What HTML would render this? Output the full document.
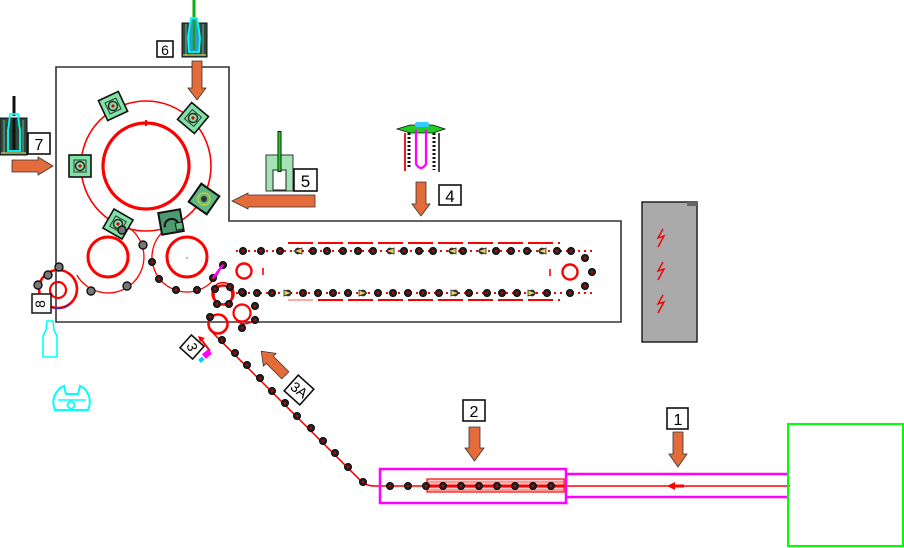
<!DOCTYPE html>
<html><head><meta charset="utf-8"><style>
html,body{margin:0;padding:0;background:#fff;}
svg{display:block;}
text{font-family:"Liberation Sans",sans-serif;}
</style></head><body>
<svg width="904" height="548" viewBox="0 0 904 548" xmlns="http://www.w3.org/2000/svg">
<defs>
<g id="cup">
<rect x="-11" y="-11" width="22" height="22" fill="#7fe3a6" stroke="#111" stroke-width="1.6"/>
<rect x="-6" y="-6" width="12" height="12" fill="none" stroke="#333" stroke-width="1"/>
<circle r="4.5" fill="none" stroke="#222" stroke-width="1.4"/>
<circle r="1.6" fill="#d00"/>
</g>
<g id="dot"><circle r="3.6" fill="#222" stroke="#000" stroke-width="0.8"/><circle r="1.2" fill="#c00"/></g>
<g id="ring"><circle r="4" fill="#777" stroke="#111" stroke-width="1.4"/></g>
<g id="tri"><circle r="3.4" fill="#333"/><polygon points="-4,-3 4,0 -4,3" fill="#e8d060" stroke="#222" stroke-width="0.8"/></g>
</defs>

<!-- machine outline -->
<polygon points="56,67 229,67 229,221 621,221 621,322 56,322" fill="none" stroke="#333" stroke-width="1.6"/>

<!-- big carousel -->
<circle cx="146" cy="166" r="65" fill="none" stroke="#f00" stroke-width="1.6"/>
<circle cx="146" cy="166" r="43" fill="none" stroke="#f00" stroke-width="3.2"/>
<line x1="146" y1="120" x2="146" y2="126" stroke="#f00" stroke-width="2"/>

<!-- lower circles -->
<circle cx="108" cy="257" r="20" fill="none" stroke="#f00" stroke-width="3"/>
<circle cx="187" cy="257" r="20" fill="none" stroke="#f00" stroke-width="3"/>
<circle cx="187" cy="258" r="1.2" fill="#bbb"/>
<path d="M76.8,275 A36 36 0 1 0 126,225.8" fill="none" stroke="#f00" stroke-width="1.3"/>
<path d="M162.2,232.3 A35 35 0 1 0 220.8,266" fill="none" stroke="#f00" stroke-width="1.3"/>

<!-- cups -->
<use href="#cup" transform="translate(113,106) rotate(-25)"/>
<use href="#cup" transform="translate(193,118) rotate(40)"/>
<use href="#cup" transform="translate(80,166)"/>
<g transform="translate(204,199) rotate(35)"><rect x="-11" y="-11" width="22" height="22" fill="#5db883" stroke="#111" stroke-width="2"/><circle r="6" fill="none" stroke="#cc3" stroke-width="1.4"/><circle r="3" fill="#333"/></g>
<use href="#cup" transform="translate(118,224) rotate(30)"/>
<g transform="translate(171,222) rotate(-10)"><rect x="-11" y="-11" width="22" height="22" fill="#4c9a70" stroke="#111" stroke-width="2"/><path d="M-7,4 A7 7 0 0 1 7,4" fill="none" stroke="#111" stroke-width="2"/><rect x="4" y="2" width="7" height="7" fill="#5db883" stroke="#111"/></g>
<use href="#ring" transform="translate(143,245)"/>
<use href="#ring" transform="translate(91,291)"/>
<use href="#ring" transform="translate(127,286)"/>
<use href="#ring" transform="translate(122,230)"/>
<use href="#dot" transform="translate(152,262)"/>
<use href="#dot" transform="translate(159,279)"/>
<use href="#dot" transform="translate(176,290)"/>
<use href="#dot" transform="translate(197,290)"/>
<use href="#dot" transform="translate(213,278)"/>
<use href="#dot" transform="translate(223,265)"/>
<line x1="213" y1="278" x2="223" y2="265" stroke="#f0f" stroke-width="2.5"/>

<!-- starwheel 8 -->
<circle cx="58" cy="289" r="19" fill="none" stroke="#f00" stroke-width="2.6"/>
<circle cx="58" cy="290" r="8" fill="none" stroke="#f00" stroke-width="2.2"/>
<path d="M40,296 A19 19 0 0 0 70,304" fill="none" stroke="#22c" stroke-width="1"/>
<use href="#ring" transform="translate(59,267)"/>
<use href="#ring" transform="translate(48,275)"/>
<use href="#ring" transform="translate(38,285)"/>
<rect x="32" y="294" width="19" height="19" fill="#fff" stroke="#111" stroke-width="1.5"/>
<text x="41.5" y="304" font-size="14" text-anchor="middle" dominant-baseline="middle" transform="rotate(-90 41.5 304)">8</text>
<!-- cyan bottle -->
<path d="M47,321 L53,321 L54,330 L57,336 L57,357 L43,357 L43,336 L46,330 Z" fill="none" stroke="#0ff" stroke-width="1.6"/>
<!-- cyan holder -->
<path d="M55,410 Q50,398 60,388 L64,386 L66,394 L78,394 L80,386 L84,388 Q93,398 88,410 Z" fill="none" stroke="#0ff" stroke-width="2"/>
<circle cx="71" cy="405" r="3.5" fill="none" stroke="#0ff" stroke-width="1.8"/>
<line x1="58" y1="400" x2="86" y2="400" stroke="#0ff" stroke-width="1.5"/>

<!-- holder 7 -->
<line x1="14" y1="96" x2="14" y2="116" stroke="#111" stroke-width="3"/>
<rect x="0" y="118" width="27" height="37" fill="#2f4a3a" stroke="#111"/>
<line x1="4" y1="120" x2="4" y2="153" stroke="#7a9" stroke-width="1"/>
<line x1="23" y1="120" x2="23" y2="153" stroke="#7a9" stroke-width="1"/>
<line x1="1" y1="153" x2="26" y2="153" stroke="#cc6" stroke-width="1.2"/>
<path d="M10,114 L18,114 L19,124 L20,130 L20,151 L8,151 L8,130 L9,124 Z" fill="none" stroke="#0ff" stroke-width="1.8"/>
<line x1="14" y1="118" x2="14" y2="150" stroke="#111" stroke-width="3"/>
<rect x="28" y="133" width="22" height="21" fill="#fff" stroke="#111" stroke-width="1.6"/>
<text x="39" y="150" font-size="16" text-anchor="middle">7</text>
<polygon points="12,160 38,160 38,157 53,166 38,175 38,172 12,172" fill="#e46c3a" stroke="#333" stroke-width="0.8"/>

<!-- holder 6 -->
<line x1="194" y1="0" x2="194" y2="22" stroke="#1a1" stroke-width="3"/>
<rect x="182" y="23" width="25" height="34" fill="#2f4a3a" stroke="#111"/>
<line x1="186" y1="24" x2="186" y2="56" stroke="#7a9" stroke-width="1"/>
<line x1="203" y1="24" x2="203" y2="56" stroke="#7a9" stroke-width="1"/>
<line x1="183" y1="55" x2="206" y2="55" stroke="#cc6" stroke-width="1.2"/>
<path d="M191,18 L197,18 L199,30 L200,38 L199,52 L189,52 L188,38 L189,30 Z" fill="#39c" stroke="#0ff" stroke-width="1.8"/>
<line x1="194" y1="20" x2="194" y2="50" stroke="#1a1" stroke-width="2.4"/>
<rect x="157" y="41" width="16" height="16" fill="#fff" stroke="#111" stroke-width="1.6"/>
<text x="165" y="55" font-size="14" text-anchor="middle">6</text>
<polygon points="192,61 202,61 202,88 206,88 197,100 188,88 192,88" fill="#e46c3a" stroke="#333" stroke-width="0.8"/>

<!-- holder 5 -->
<rect x="266" y="155" width="27" height="36" fill="#a3e3b5" stroke="#333" stroke-width="1"/>
<rect x="273" y="170" width="13" height="20" fill="#fff" stroke="#222" stroke-width="1"/>
<line x1="279.5" y1="131" x2="279.5" y2="172" stroke="#111" stroke-width="4"/>
<line x1="279.5" y1="132" x2="279.5" y2="171" stroke="#2c2" stroke-width="2.2"/>
<rect x="294" y="169" width="23" height="22" fill="#fff" stroke="#111" stroke-width="1.6"/>
<text x="305.5" y="187" font-size="17" text-anchor="middle">5</text>
<polygon points="315,195 248,195 248,193 232,201 248,209 248,207 315,207" fill="#e46c3a" stroke="#333" stroke-width="0.8"/>

<!-- device 4 -->
<polygon points="397,129 410,125 433,125 445,129 433,133 410,133" fill="#2c2" stroke="#111" stroke-width="0.8"/>
<rect x="415" y="122" width="14" height="5" rx="2" fill="#3cf"/>
<line x1="405" y1="133" x2="405" y2="171" stroke="#e00" stroke-width="1.8"/>
<line x1="409" y1="133" x2="409" y2="168" stroke="#111" stroke-width="3" stroke-dasharray="2 2"/>
<line x1="434" y1="133" x2="434" y2="170" stroke="#111" stroke-width="3" stroke-dasharray="2 2"/>
<line x1="439" y1="133" x2="439" y2="172" stroke="#111" stroke-width="1.5"/>
<path d="M416,130 L416,164 Q421,172 426,164 L426,130" fill="none" stroke="#f0f" stroke-width="2.2"/>
<polygon points="416,182 426,182 426,204 430,204 421,216 412,204 416,204" fill="#e46c3a" stroke="#333" stroke-width="0.8"/>
<rect x="439" y="185" width="22" height="20" fill="#fff" stroke="#111" stroke-width="1.6"/>
<text x="450" y="202" font-size="17" text-anchor="middle">4</text>

<!-- conveyor -->
<line x1="236" y1="251" x2="592" y2="251" stroke="#f00" stroke-width="2" stroke-dasharray="2 4"/>
<line x1="236" y1="293" x2="592" y2="293" stroke="#f00" stroke-width="2" stroke-dasharray="2 4"/>
<line x1="288" y1="243" x2="560" y2="243" stroke="#f00" stroke-width="2" stroke-dasharray="25 5"/>
<line x1="288" y1="300" x2="560" y2="300" stroke="#f00" stroke-width="2" stroke-dasharray="25 5"/>
<line x1="288" y1="300" x2="313" y2="300" stroke="#faa" stroke-width="2"/>
<circle cx="244" cy="271" r="7.5" fill="none" stroke="#f00" stroke-width="2.4"/>
<line x1="263" y1="268" x2="263" y2="275" stroke="#f00" stroke-width="1.6"/>
<circle cx="570" cy="272" r="7.5" fill="none" stroke="#f00" stroke-width="2.4"/>
<line x1="550" y1="269" x2="550" y2="276" stroke="#f00" stroke-width="1.6"/>
<g>
<use href="#dot" x="243" y="251"/><use href="#dot" x="261" y="251"/><use href="#dot" x="280" y="251"/>
<use href="#tri" transform="translate(298,251) rotate(180)"/>
<use href="#dot" x="313" y="251"/><use href="#dot" x="327" y="251"/><use href="#dot" x="343" y="251"/>
<use href="#dot" x="358" y="251"/><use href="#dot" x="373" y="251"/>
<use href="#tri" transform="translate(390,251) rotate(180)"/>
<use href="#dot" x="404" y="251"/><use href="#dot" x="419" y="251"/><use href="#dot" x="433" y="251"/>
<use href="#tri" transform="translate(452,251) rotate(180)"/>
<use href="#dot" x="463" y="251"/>
<use href="#tri" transform="translate(482,251) rotate(180)"/>
<use href="#dot" x="496" y="251"/><use href="#dot" x="511" y="251"/><use href="#dot" x="527" y="251"/>
<use href="#tri" transform="translate(542,251) rotate(180)"/>
<use href="#dot" x="557" y="251"/><use href="#dot" x="571" y="251"/>
<use href="#dot" x="585" y="258"/><use href="#dot" x="592" y="272"/><use href="#dot" x="585" y="286"/>
<use href="#dot" x="243" y="293"/><use href="#dot" x="257" y="293"/><use href="#dot" x="272" y="293"/>
<use href="#tri" x="288" y="293"/>
<use href="#dot" x="303" y="293"/><use href="#dot" x="318" y="293"/><use href="#dot" x="333" y="293"/><use href="#dot" x="348" y="293"/>
<use href="#tri" x="363" y="293"/>
<use href="#dot" x="378" y="293"/><use href="#dot" x="393" y="293"/><use href="#dot" x="408" y="293"/><use href="#dot" x="423" y="293"/><use href="#dot" x="439" y="293"/>
<use href="#tri" x="455" y="293"/>
<use href="#dot" x="469" y="293"/><use href="#dot" x="487" y="293"/><use href="#dot" x="502" y="293"/><use href="#dot" x="517" y="293"/>
<use href="#tri" x="532" y="293"/>
<use href="#dot" x="547" y="293"/><use href="#dot" x="570" y="293"/>
</g>

<!-- exit wheels -->
<circle cx="223" cy="295" r="9.5" fill="none" stroke="#f00" stroke-width="2.6"/>
<path d="M214,300 A11 11 0 1 1 232,300" fill="none" stroke="#f00" stroke-width="1.5"/>
<circle cx="242" cy="313" r="8.5" fill="none" stroke="#f00" stroke-width="2.2"/>
<path d="M236,320 A12 12 0 0 0 256,316" fill="none" stroke="#f00" stroke-width="1.5"/>
<circle cx="218" cy="324" r="9.5" fill="none" stroke="#f00" stroke-width="2.6"/>
<use href="#dot" x="215" y="289"/><use href="#dot" x="230" y="287"/><use href="#dot" x="242" y="292"/>
<use href="#dot" x="217" y="304"/><use href="#dot" x="229" y="304"/><use href="#dot" x="255" y="306"/>
<use href="#dot" x="255" y="320"/><use href="#dot" x="242" y="328"/><use href="#dot" x="210" y="317"/>

<!-- box 3 -->
<g transform="translate(192,347) rotate(42)">
<rect x="-8.5" y="-8.5" width="17" height="17" fill="#fff" stroke="#111" stroke-width="1.6"/>
<text x="0" y="1" font-size="14" text-anchor="middle" dominant-baseline="middle" transform="rotate(30)">3</text>
</g>
<line x1="200" y1="338" x2="210" y2="351" stroke="#f00" stroke-width="2"/>
<polygon points="198,336 205,338 200,342" fill="#f00"/>
<rect x="203" y="351" width="8" height="6" fill="#f0f" transform="rotate(-40 207 354)"/>
<rect x="199" y="358" width="5" height="4" fill="#0cf" transform="rotate(-40 201 360)"/>

<!-- transfer line -->
<path d="M213,333 L360,480 Q365,486 375,486 L790,486" fill="none" stroke="#f00" stroke-width="1.6"/>
<g>
<use href="#dot" x="222" y="340"/><use href="#dot" x="235" y="353"/><use href="#dot" x="247" y="365"/>
<use href="#dot" x="260" y="378"/><use href="#dot" x="272" y="391"/><use href="#dot" x="285" y="403"/>
<use href="#dot" x="297" y="416"/><use href="#dot" x="311" y="428"/><use href="#dot" x="323" y="441"/>
<use href="#dot" x="335" y="453"/><use href="#dot" x="348" y="467"/><use href="#dot" x="363" y="482"/>
</g>
<!-- arrow 3A -->
<g transform="translate(274,364) rotate(45)">
<polygon points="-18,0 -6,-9 -6,-5 16,-5 16,5 -6,5 -6,9" fill="#e46c3a" stroke="#333" stroke-width="0.8"/>
</g>
<g transform="translate(299,390) rotate(42)">
<rect x="-10.5" y="-10.5" width="21" height="21" fill="#fff" stroke="#111" stroke-width="1.6"/>
<text x="0" y="1" font-size="14" text-anchor="middle" dominant-baseline="middle" transform="rotate(-5)">3A</text>
</g>

<!-- infeed -->
<rect x="380" y="469" width="186" height="34" fill="none" stroke="#f0f" stroke-width="2.5"/>
<rect x="427" y="479" width="137" height="13" fill="#fcc" stroke="#f00" stroke-width="1.2"/>
<line x1="428" y1="486" x2="564" y2="486" stroke="#f00" stroke-width="3"/>
<line x1="428" y1="482" x2="564" y2="482" stroke="#f66" stroke-width="1"/>
<line x1="428" y1="490" x2="564" y2="490" stroke="#f66" stroke-width="1"/>
<g>
<use href="#dot" x="390" y="486"/><use href="#dot" x="408" y="486"/><use href="#dot" x="426" y="486"/>
<use href="#dot" x="443" y="486"/><use href="#dot" x="461" y="486"/><use href="#dot" x="479" y="486"/>
<use href="#dot" x="497" y="486"/><use href="#dot" x="515" y="486"/><use href="#dot" x="533" y="486"/><use href="#dot" x="551" y="486"/>
</g>
<line x1="566" y1="474" x2="789" y2="474" stroke="#f0f" stroke-width="2.5"/>
<line x1="566" y1="497" x2="789" y2="497" stroke="#f0f" stroke-width="2.5"/>
<polygon points="667,486 675,482 675,490" fill="#f00"/>
<line x1="674" y1="486" x2="684" y2="486" stroke="#f00" stroke-width="3"/>

<rect x="463" y="400" width="22" height="21" fill="#fff" stroke="#111" stroke-width="1.6"/>
<text x="474" y="417" font-size="16" text-anchor="middle">2</text>
<polygon points="469,427 480,427 480,448 484,448 474.5,461 465,448 469,448" fill="#e46c3a" stroke="#333" stroke-width="0.8"/>

<rect x="667" y="408" width="21" height="21" fill="#fff" stroke="#111" stroke-width="1.6"/>
<text x="678" y="425" font-size="16" text-anchor="middle">1</text>
<polygon points="673,432 683,432 683,454 687,454 678,467 669,454 673,454" fill="#e46c3a" stroke="#333" stroke-width="0.8"/>

<!-- green box -->
<rect x="788" y="424" width="115" height="122" fill="none" stroke="#0f0" stroke-width="2"/>

<!-- gray cabinet -->
<rect x="642" y="202" width="55" height="140" fill="#aaa" stroke="#222" stroke-width="1.5"/>
<rect x="687" y="202" width="10" height="4" fill="#666"/>
<g fill="none" stroke="#e00" stroke-width="1.4">
<polyline points="663,229 658,238 664,236 658,247"/>
<polyline points="663,262 658,271 664,269 658,280"/>
<polyline points="663,295 658,304 664,302 658,313"/>
</g>
</svg>
</body></html>
